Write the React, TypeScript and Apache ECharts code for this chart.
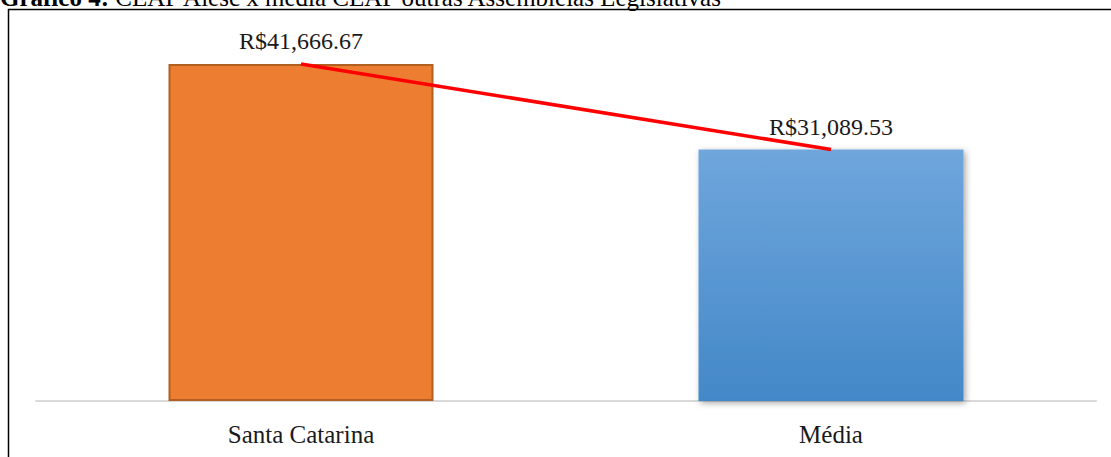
import React, { useEffect, useRef } from "react";
import * as echarts from "echarts";

const categories = ["Santa Catarina", "Média"];
const values = [41666.67, 31089.53];
const valueLabels = ["R$41,666.67", "R$31,089.53"];
const titleBold = "Gráfico 4:";
const titleRest = " CEAP Alesc x média CEAP outras Assembleias Legislativas";

const FONT = "'Liberation Serif', 'DejaVu Serif', serif";

export default function App() {
  const ref = useRef<HTMLDivElement>(null);
  useEffect(() => {
    const chart = echarts.init(ref.current!, undefined, { renderer: "svg" });
    chart.setOption({
      animation: false,
      backgroundColor: "#ffffff",
      grid: { left: 36, right: 15, top: 37, bottom: 56, containLabel: false },
      xAxis: {
        type: "category",
        data: categories,
        axisLine: { show: true, lineStyle: { color: "#d9d9d9", width: 2 } },
        axisTick: { show: false },
        axisLabel: { color: "#1a1a1a", fontFamily: FONT, fontSize: 25, margin: 21 },
      },
      yAxis: {
        type: "value",
        min: 0,
        max: 45000,
        show: false,
        splitLine: { show: false },
      },
      series: [
        {
          type: "bar",
          barWidth: "50%",
          data: [
            {
              value: values[0],
              itemStyle: { color: "#ed7d31", borderColor: "#b0601f", borderWidth: 2 },
            },
            {
              value: values[1],
              itemStyle: {
                color: new echarts.graphic.LinearGradient(0, 0, 0, 1, [
                  { offset: 0, color: "#6fa6dc" },
                  { offset: 1, color: "#4388c8" },
                ]),
                shadowBlur: 6,
                shadowColor: "rgba(0,0,0,0.35)",
                shadowOffsetX: 2,
                shadowOffsetY: 2,
              },
            },
          ],
          label: {
            show: true,
            position: "top",
            distance: 11,
            fontFamily: FONT,
            fontSize: 24,
            color: "#1a1a1a",
            formatter: (p: any) => valueLabels[p.dataIndex],
          },
          z: 2,
        },
        {
          type: "line",
          data: values,
          symbol: "none",
          lineStyle: { color: "#ff0000", width: 3.5 },
          z: 3,
        },
      ],
      graphic: [
        {
          type: "line",
          shape: { x1: 8, y1: 9.5, x2: 1111, y2: 9.5 },
          style: { stroke: "#000", lineWidth: 1.5 },
          silent: true,
        },
        {
          type: "line",
          shape: { x1: 8.5, y1: 9, x2: 8.5, y2: 457 },
          style: { stroke: "#000", lineWidth: 1.5 },
          silent: true,
        },
        {
          type: "text",
          x: 0,
          y: 10,
          style: {
            text: "{b|" + titleBold + "}{n|" + titleRest + "}",
            verticalAlign: "bottom",
            rich: {
              b: { fontFamily: FONT, fontSize: 25, fontWeight: "bold", fill: "#000" },
              n: { fontFamily: FONT, fontSize: 25, fill: "#000" },
            },
          },
          silent: true,
        },
      ],
    });
    return () => chart.dispose();
  }, []);
  return (
    <div style={{ position: "fixed", left: 0, top: 0, width: 1111, height: 457 }}>
      <div ref={ref} style={{ width: 1111, height: 457 }} />
    </div>
  );
}
